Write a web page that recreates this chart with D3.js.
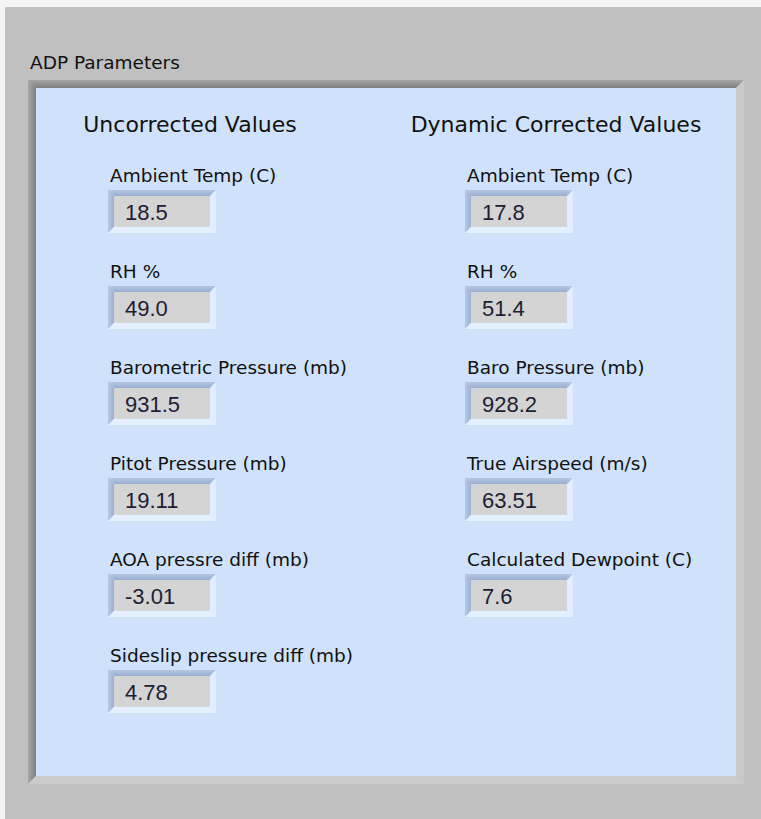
<!DOCTYPE html>
<html>
<head>
<meta charset="utf-8">
<script src="https://cdn.jsdelivr.net/npm/d3@7"></script>
<style>
  body { margin: 0; background: #f4f4f4; }
  svg { display: block; }
</style>
</head>
<body>
<div id="panel"></div>
<script>
// panel contents
var groupTitle = "ADP Parameters";
var columns = ["Uncorrected Values", "Dynamic Corrected Values"];

var uncorrectedLabels = ["Ambient Temp (C)", "RH %", "Barometric Pressure (mb)",
    "Pitot Pressure (mb)", "AOA pressre diff (mb)", "Sideslip pressure diff (mb)"];
var uncorrectedValues = ["18.5", "49.0", "931.5", "19.11", "-3.01", "4.78"];

var correctedLabels = ["Ambient Temp (C)", "RH %", "Baro Pressure (mb)",
    "True Airspeed (m/s)", "Calculated Dewpoint (C)"];
var correctedValues = ["17.8", "51.4", "928.2", "63.51", "7.6"];

var width = 761, height = 819;

var svg = d3.select("#panel")
    .append("svg")
        .attr("width", width)
        .attr("height", height);

var defs = svg.append("defs");

// gradients for the sunken frames
function vGrad(id, c1, c2) {
    var g = defs.append("linearGradient").attr("id", id)
        .attr("x1", 0).attr("y1", 0).attr("x2", 0).attr("y2", 1);
    g.append("stop").attr("offset", "0%").attr("stop-color", c1);
    g.append("stop").attr("offset", "100%").attr("stop-color", c2);
}
function hGrad(id, c1, c2) {
    var g = defs.append("linearGradient").attr("id", id)
        .attr("x1", 0).attr("y1", 0).attr("x2", 1).attr("y2", 0);
    g.append("stop").attr("offset", "0%").attr("stop-color", c1);
    g.append("stop").attr("offset", "100%").attr("stop-color", c2);
}
vGrad("frameTop", "#a6a6a6", "#7f7f7f");
hGrad("frameLeft", "#a6a6a6", "#7f7f7f");
vGrad("boxTop", "#b8c8e2", "#98acd0");
hGrad("boxLeft", "#b8c8e2", "#9cb0d4");

// window background
svg.append("rect")
    .attr("x", 5).attr("y", 7)
    .attr("width", width - 5).attr("height", height - 7)
    .attr("fill", "#c0c0c0");

// group box title
svg.append("text")
    .attr("x", 30).attr("y", 69)
    .attr("font-family", "Tahoma, 'DejaVu Sans', sans-serif")
    .attr("font-size", 18.5)
    .attr("fill", "#111")
    .text(groupTitle);

// sunken frame with bevel polygons
function bevel(g, x0, y0, x1, y1, t, topFill, leftFill, botFill, rightFill, inner) {
    g.append("polygon")
        .attr("points", [[x0, y0], [x1, y0], [x1 - t, y0 + t], [x0 + t, y0 + t]].join(" "))
        .attr("fill", topFill);
    g.append("polygon")
        .attr("points", [[x0, y0], [x0 + t, y0 + t], [x0 + t, y1 - t], [x0, y1]].join(" "))
        .attr("fill", leftFill);
    g.append("polygon")
        .attr("points", [[x0, y1], [x0 + t, y1 - t], [x1 - t, y1 - t], [x1, y1]].join(" "))
        .attr("fill", botFill);
    g.append("polygon")
        .attr("points", [[x1, y0], [x1, y1], [x1 - t, y1 - t], [x1 - t, y0 + t]].join(" "))
        .attr("fill", rightFill);
    g.append("rect")
        .attr("x", x0 + t).attr("y", y0 + t)
        .attr("width", x1 - x0 - 2 * t).attr("height", y1 - y0 - 2 * t)
        .attr("fill", inner);
}

var frame = svg.append("g");
bevel(frame, 28, 80, 744, 784, 8,
    "url(#frameTop)", "url(#frameLeft)", "#cbcbcb", "#c9c9c9", "#cfe1fb");

// row / column layout
var rowY = d3.scaleLinear().domain([0, 5]).range([182, 662]);
var colX = d3.scalePoint().domain(columns).range([108, 465]);
var headerX = d3.scalePoint().domain(columns).range([190, 556]);

svg.selectAll(".header")
    .data(columns)
    .enter().append("text")
    .attr("class", "header")
    .attr("x", d => headerX(d))
    .attr("y", 132)
    .attr("text-anchor", "middle")
    .attr("font-family", "Tahoma, 'DejaVu Sans', sans-serif")
    .attr("font-size", 22)
    .attr("fill", "#111")
    .text(d => d);

var boxW = 108, boxH = 43;

function drawColumn(col, labels, values) {
    var rows = labels.map((l, i) => ({label: l, value: values[i], i: i}));
    var x = colX(col);

    var g = svg.selectAll(".row-" + removeSpaces(col))
        .data(rows)
        .enter().append("g")
        .attr("class", "row-" + removeSpaces(col));

    g.append("text")
        .attr("x", x + 2)
        .attr("y", d => rowY(d.i))
        .attr("font-family", "Tahoma, 'DejaVu Sans', sans-serif")
        .attr("font-size", 18.5)
        .attr("fill", "#111")
        .text(d => d.label);

    g.each(function(d) {
        var top = rowY(d.i) + 8;
        bevel(d3.select(this), x, top, x + boxW, top + boxH, 6,
            "url(#boxTop)", "url(#boxLeft)", "#e4efff", "#e2eeff", "#d4d4d4");
    });

    g.append("text")
        .attr("x", x + 17)
        .attr("y", d => rowY(d.i) + 8 + boxH / 2 + 8)
        .attr("font-family", "'Liberation Sans', Arial, sans-serif")
        .attr("font-size", 22)
        .attr("fill", "#202034")
        .text(d => d.value);
}

function removeSpaces(str){
    return str.replace(/\s/g, '');
}

drawColumn(columns[0], uncorrectedLabels, uncorrectedValues);
drawColumn(columns[1], correctedLabels, correctedValues);
</script>
</body>
</html>
